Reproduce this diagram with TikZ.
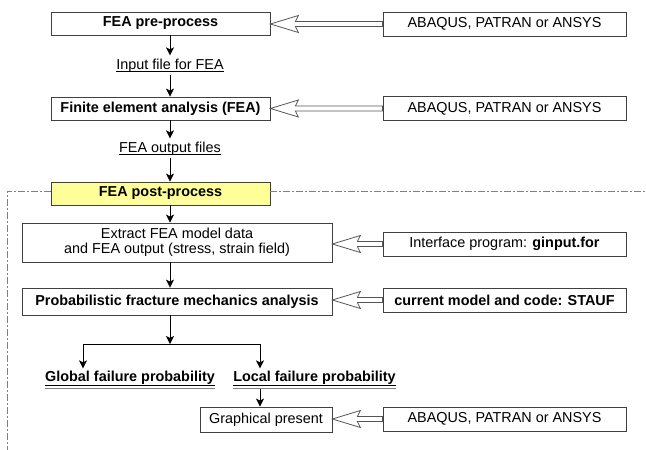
\documentclass[tikz,border=0pt]{standalone}
\usepackage{fontspec}
\setmainfont{Liberation Sans}
\usetikzlibrary{arrows.meta,calc}

\begin{document}
\begin{tikzpicture}[x=1pt,y=-1pt]
    % -----------------------------
    % Parameters (page units = px of the sketch)
    % -----------------------------
    \def\colX{170}        % x of the main flow arrows
    \def\toolX{504.5}     % centre of the tool boxes
    \def\branchY{344}     % y of the split into global/local
    \def\frameX{7}        % left edge of the post-process frame

    \definecolor{boxgray}{HTML}{404040}
    \definecolor{shaftgray}{HTML}{555555}
    \definecolor{framegray}{HTML}{808080}
    \definecolor{postyellow}{HTML}{FFFF99}

    % -----------------------------
    % Styles
    % -----------------------------
    \tikzset{
      procbox/.style={draw=boxgray, line width=0.8pt, minimum height=23pt,
                      inner sep=2pt, font=\fontsize{14.4pt}{14pt}\selectfont},
      toolbox/.style={procbox, minimum width=243pt, minimum height=24pt},
      ulabel/.style={inner sep=0pt, anchor=base, font=\fontsize{14.4pt}{14pt}\selectfont},
      flow/.style={draw=black, line width=0.8pt, -{Stealth[length=8pt,width=8pt,inset=2pt]}},
      hollow/.style={draw=shaftgray, line width=0.8pt, fill=white, line join=miter},
      frame/.style={draw=framegray, line width=0.9pt, dash pattern=on 7pt off 2pt on 2pt off 2pt}
    }

    % Open double-line arrow from a tool box (#1) into a process box (#2)
    \newcommand{\hollowarrow}[2]{%
      \draw[hollow] let \p1=(#1.west), \p2=(#2.east) in
        (\x2,\y1) -- (\x2+28pt,\y1-8.5pt) -- (\x2+25pt,\y1-2.5pt) -- (\x1,\y1-2.5pt)
        -- (\x1,\y1+2.5pt) -- (\x2+25pt,\y1+2.5pt) -- (\x2+28pt,\y1+8.5pt) -- cycle;
    }

    \useasboundingbox (0,0) rectangle (646,450);
    \coordinate (col) at (\colX,0);

    % -----------------------------
    % Main process column
    % -----------------------------
    \node[procbox, minimum width=219pt] (pre) at (160.5,23.5) {\bfseries FEA pre-process};
    \node[ulabel] (inp) at (170,69) {Input file for FEA};
    \node[procbox, minimum width=219pt] (fea) at (160.5,108.5) {\bfseries Finite element analysis (FEA)};
    \node[ulabel] (out) at (170,152) {FEA output files};

    % Post-process frame (behind the yellow box)
    \coordinate (fcorner) at (\frameX,191);
    \coordinate (fbottom) at (\frameX,450);
    \coordinate (fright) at (646,191);
    \node[procbox, minimum width=219pt, fill=postyellow] (post) at (160.5,193.5) {\bfseries FEA post-process};
    \draw[frame] (post.west |- fcorner) -- (fcorner) -- (fbottom);
    \draw[frame] (post.east |- fright) -- (fright);

    \node[procbox, minimum width=310pt, minimum height=39pt, align=center] (extract) at (177,242.5)
      {Extract FEA model data\\[1pt] and FEA output (stress, strain field)};
    \node[procbox, minimum width=310pt, minimum height=27pt] (pfm) at (177,301.5)
      {\bfseries Probabilistic fracture mechanics analysis};

    \node[ulabel] (glob) at (130,381) {\bfseries Global failure probability};
    \node[ulabel] (loc) at (314.5,381) {\bfseries Local failure probability};
    \node[procbox, minimum width=132pt, minimum height=25pt] (graph) at (266,419.5) {Graphical present};

    % Underlines
    \draw[line width=0.8pt] ($(inp.base west)+(0,2)$) -- ($(inp.base east)+(0,2)$);
    \draw[line width=0.8pt] ($(out.base west)+(0,2)$) -- ($(out.base east)+(0,2)$);
    \foreach \lab in {glob,loc}{
      \draw[line width=0.9pt] ($(\lab.base west)+(0,4)$) -- ($(\lab.base east)+(0,4)$);
      \draw[line width=0.9pt, framegray] ($(\lab.base west)+(0,7.5)$) -- ($(\lab.base east)+(0,7.5)$);
    }

    % -----------------------------
    % Tool boxes on the right
    % -----------------------------
    \node[toolbox] (tpre) at (\toolX,24) {ABAQUS, PATRAN or ANSYS};
    \node[toolbox] (tfea) at (\toolX,108.5) {ABAQUS, PATRAN or ANSYS};
    \node[toolbox] (tint) at (\toolX,244) {Interface program: \textbf{ginput.for}};
    \node[toolbox] (tstauf) at (\toolX,300) {\bfseries current model and code: STAUF};
    \node[toolbox] (tgraph) at (\toolX,419) {ABAQUS, PATRAN or ANSYS};

    \hollowarrow{tpre}{pre}
    \hollowarrow{tfea}{fea}
    \hollowarrow{tint}{extract}
    \hollowarrow{tstauf}{pfm}
    \hollowarrow{tgraph}{graph}

    % -----------------------------
    % Flow arrows
    % -----------------------------
    \draw[flow] (pre.south -| col) -- ($(inp.north -| col)+(0,-3)$);
    \draw[flow] ($(inp.south -| col)+(0,3)$) -- (fea.north -| col);
    \draw[flow] (fea.south -| col) -- ($(out.north -| col)+(0,-3)$);
    \draw[flow] ($(out.south -| col)+(0,3)$) -- (post.north -| col);
    \draw[flow] (post.south -| col) -- (extract.north -| col);
    \draw[flow] (extract.south -| col) -- (pfm.north -| col);

    \coordinate (bl) at (83,\branchY);
    \coordinate (br) at (260,\branchY);
    \draw[flow] (pfm.south -| col) -- (col |- bl);
    \draw[line width=0.8pt] (bl) -- (br);
    \draw[flow] (bl) -- ($(bl |- glob.north)+(0,-2)$);
    \draw[flow] (br) -- ($(br |- loc.north)+(0,-2)$);
    \draw[flow] ($(br |- loc.base)+(0,8)$) -- (graph.north -| br);

\end{tikzpicture}
\end{document}
